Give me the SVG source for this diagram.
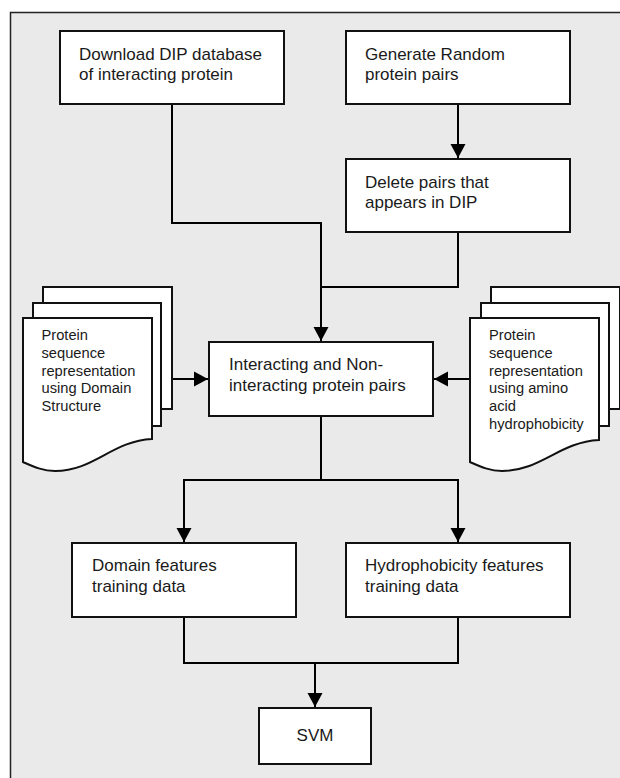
<svg xmlns="http://www.w3.org/2000/svg" width="620" height="778" viewBox="0 0 620 778">
<defs>
<marker id="ah" markerUnits="userSpaceOnUse" markerWidth="16" markerHeight="16" viewBox="0 0 16 16" refX="14" refY="8" orient="auto">
<path d="M0,0.5 L14,8 L0,15.5 Z" fill="#000"/>
</marker>
<style>
.box{fill:#fff;stroke:#111;stroke-width:2}
.doc{fill:#fff;stroke:#111;stroke-width:2;stroke-linejoin:miter}
.t{font-family:"Liberation Sans",Arial,sans-serif;font-size:17px;fill:#1a1a1a}
.s{font-family:"Liberation Sans",Arial,sans-serif;font-size:14.7px;fill:#1a1a1a}
.c{fill:none;stroke:#000;stroke-width:2}
</style>
</defs>
<rect x="10.5" y="12.5" width="620" height="780" fill="#eaeaea" stroke="#222" stroke-width="1.5"/>
<g id="connectors">
<path class="c" d="M172,104 V223 H321 V341" marker-end="url(#ah)"/>
<path class="c" d="M458,104 V158" marker-end="url(#ah)"/>
<path class="c" d="M458,232 V287 H321"/>
<path class="c" d="M172,379 H208" marker-end="url(#ah)"/>
<path class="c" d="M470,379 H434" marker-end="url(#ah)"/>
<path class="c" d="M321,416 V480 H184 V542" marker-end="url(#ah)"/>
<path class="c" d="M321,480 H458 V542" marker-end="url(#ah)"/>
<path class="c" d="M184,617 V663 H458 V617"/>
<path class="c" d="M315,663 V707" marker-end="url(#ah)"/>
</g>
<g id="download">
<rect class="box" x="60" y="31" width="224" height="73"/>
<text class="t" x="79" y="59.5">Download DIP database</text>
<text class="t" x="79" y="80">of interacting protein</text>
</g>
<g id="generate">
<rect class="box" x="346" y="31" width="224" height="73"/>
<text class="t" x="365" y="59.5">Generate Random</text>
<text class="t" x="365" y="80">protein pairs</text>
</g>
<g id="delete">
<rect class="box" x="346" y="159" width="224" height="73"/>
<text class="t" x="365" y="187.5">Delete pairs that</text>
<text class="t" x="365" y="208">appears in DIP</text>
</g>
<g id="pairs">
<rect class="box" x="209" y="342" width="224" height="74"/>
<text class="t" x="229" y="370">Interacting and Non-</text>
<text class="t" x="229" y="391">interacting protein pairs</text>
</g>
<g id="doc-domain">
<rect class="doc" x="43" y="287" width="129" height="122"/>
<rect class="doc" x="33" y="303" width="128" height="123"/>
<path class="doc" d="M23,318 H152 V439 C112,441 94,471 55,471 C42,471 32,466 23,462 Z"/>
<text class="s" x="41.5" y="340">Protein</text>
<text class="s" x="41.5" y="357.5">sequence</text>
<text class="s" x="41.5" y="375.5">representation</text>
<text class="s" x="41.5" y="393">using Domain</text>
<text class="s" x="41.5" y="411">Structure</text>
</g>
<g id="doc-hydro">
<rect class="doc" x="491" y="287" width="129" height="122"/>
<rect class="doc" x="481" y="303" width="128" height="123"/>
<path class="doc" d="M470,318 H599 V440 C559,442 541,471 502,471 C489,471 479,466 470,462 Z"/>
<text class="s" x="489" y="340">Protein</text>
<text class="s" x="489" y="357.5">sequence</text>
<text class="s" x="489" y="375.5">representation</text>
<text class="s" x="489" y="393">using amino</text>
<text class="s" x="489" y="411">acid</text>
<text class="s" x="489" y="429">hydrophobicity</text>
</g>
<g id="domain-features">
<rect class="box" x="72" y="543" width="224" height="74"/>
<text class="t" x="92" y="571">Domain features</text>
<text class="t" x="92" y="592">training data</text>
</g>
<g id="hydro-features">
<rect class="box" x="346" y="543" width="224" height="74"/>
<text class="t" x="365" y="571">Hydrophobicity features</text>
<text class="t" x="365" y="592">training data</text>
</g>
<g id="svm">
<rect class="box" x="259" y="708" width="112" height="56"/>
<text class="t" x="315" y="741" text-anchor="middle">SVM</text>
</g>
</svg>
